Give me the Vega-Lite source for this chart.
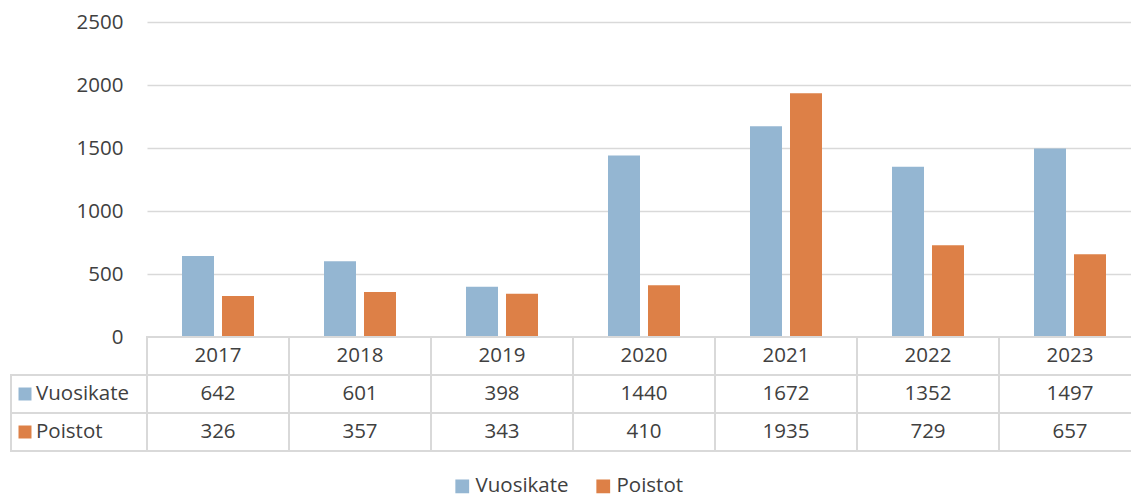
{
  "$schema": "https://vega.github.io/schema/vega-lite/v6.json",
  "padding": {"top": 12, "left": 10, "right": 0, "bottom": 0},
  "background": "white",
  "datasets": {
    "d": [
      {"year": "2017", "series": "Vuosikate", "value": 642},
      {"year": "2017", "series": "Poistot", "value": 326},
      {"year": "2018", "series": "Vuosikate", "value": 601},
      {"year": "2018", "series": "Poistot", "value": 357},
      {"year": "2019", "series": "Vuosikate", "value": 398},
      {"year": "2019", "series": "Poistot", "value": 343},
      {"year": "2020", "series": "Vuosikate", "value": 1440},
      {"year": "2020", "series": "Poistot", "value": 410},
      {"year": "2021", "series": "Vuosikate", "value": 1672},
      {"year": "2021", "series": "Poistot", "value": 1935},
      {"year": "2022", "series": "Vuosikate", "value": 1352},
      {"year": "2022", "series": "Poistot", "value": 729},
      {"year": "2023", "series": "Vuosikate", "value": 1497},
      {"year": "2023", "series": "Poistot", "value": 657}
    ]
  },
  "config": {"view": {"stroke": null}, "font": "Open Sans"},
  "spacing": 0,
  "bounds": "flush",
  "columns": 2,
  "concat": [
    {
      "width": 136, "height": 315,
      "data": {"values": [{"e": ""}]},
      "mark": {"type": "text"},
      "encoding": {"text": {"field": "e"}}
    },
    {
      "width": 994, "height": 315,
      "data": {"name": "d"},
      "mark": {"type": "bar"},
      "encoding": {
        "x": {"field": "year", "type": "nominal", "axis": null, "scale": {"paddingInner": 0, "paddingOuter": 0}},
        "xOffset": {"field": "series", "type": "nominal", "sort": ["Vuosikate", "Poistot"], "scale": {"domain": ["Vuosikate", "Poistot"], "paddingInner": 0.2, "paddingOuter": 0.875}},
        "y": {"field": "value", "type": "quantitative", "scale": {"domain": [0, 2500]},
          "axis": {"values": [0, 500, 1000, 1500, 2000, 2500], "format": "d", "title": null, "domain": false, "ticks": false, "labelPadding": 24, "labelFontSize": 20.5, "labelColor": "#404040", "labelFont": "Open Sans", "gridColor": "#D9D9D9", "gridWidth": 1.5}},
        "color": {"field": "series", "type": "nominal", "scale": {"domain": ["Vuosikate", "Poistot"], "range": ["#94B6D2", "#DD8047"]},
          "legend": {"title": null, "orient": "none", "legendX": 441, "legendY": 454, "direction": "horizontal", "symbolType": "square", "symbolSize": 190, "symbolStrokeWidth": 0, "labelFontSize": 20.5, "labelColor": "#404040", "labelFont": "Open Sans", "labelOffset": 3, "columnPadding": 24}}
      }
    },
    {
      "width": 136, "height": 114,
      "data": {"name": "d"},
      "transform": [{"filter": "datum.year == '2017'"}],
      "encoding": {
        "y": {"field": "series", "type": "nominal", "scale": {"domain": ["Vuosi", "Vuosikate", "Poistot"], "paddingInner": 0, "paddingOuter": 0}, "axis": null},
        "x": {"datum": "c", "type": "nominal", "scale": {"paddingInner": 0, "paddingOuter": 0}, "axis": null}
      },
      "layer": [
        {"mark": {"type": "rect", "fill": "white", "stroke": "#D9D9D9", "strokeWidth": 2}},
        {"mark": {"type": "point", "shape": "square", "filled": true, "size": 169, "opacity": 1, "xOffset": 14, "strokeWidth": 0},
          "encoding": {
            "x": {"datum": "c", "type": "nominal", "bandPosition": 0},
            "color": {"field": "series", "type": "nominal"}
          }},
        {"mark": {"type": "text", "align": "left", "dx": 25, "fontSize": 20.5, "color": "#404040", "font": "Open Sans"},
          "encoding": {
            "x": {"datum": "c", "type": "nominal", "bandPosition": 0},
            "text": {"field": "series"}
          }}
      ]
    },
    {
      "width": 994, "height": 114,
      "data": {"name": "d"},
      "encoding": {
        "x": {"field": "year", "type": "nominal", "axis": null, "scale": {"paddingInner": 0, "paddingOuter": 0}},
        "y": {"field": "series", "type": "nominal", "scale": {"domain": ["Vuosi", "Vuosikate", "Poistot"], "paddingInner": 0, "paddingOuter": 0}, "axis": null}
      },
      "layer": [
        {"mark": {"type": "rect", "fill": "white", "stroke": "#D9D9D9", "strokeWidth": 2}},
        {"mark": {"type": "text", "fontSize": 20.5, "color": "#404040", "font": "Open Sans"},
          "encoding": {"text": {"field": "value"}}},
        {"transform": [{"filter": "datum.series == 'Vuosikate'"}],
          "mark": {"type": "rect", "fill": "white", "stroke": "#D9D9D9", "strokeWidth": 2},
          "encoding": {"y": {"datum": "Vuosi", "type": "nominal"}}},
        {"transform": [{"filter": "datum.series == 'Vuosikate'"}],
          "mark": {"type": "text", "fontSize": 20.5, "color": "#404040", "font": "Open Sans"},
          "encoding": {"y": {"datum": "Vuosi", "type": "nominal"}, "text": {"field": "year"}}}
      ]
    }
  ]
}
